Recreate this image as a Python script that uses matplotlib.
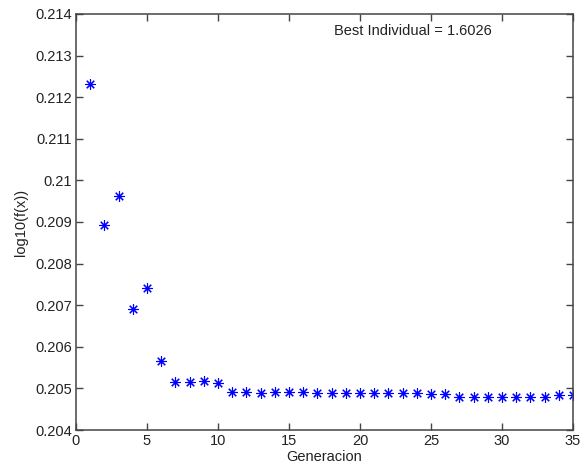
import matplotlib
matplotlib.use("Agg")
import matplotlib.pyplot as plt
import numpy as np

generations = list(range(1, 36))
log_fitness = [0.21231, 0.20893, 0.20963, 0.20690, 0.20742, 0.20567, 0.20515, 0.20515,
               0.20518, 0.20512, 0.20492, 0.20492, 0.20488, 0.20491, 0.20491, 0.20491,
               0.20488, 0.20488, 0.20488, 0.20488, 0.20488, 0.20488, 0.20489, 0.20489,
               0.20486, 0.20486, 0.20480, 0.20480, 0.20480, 0.20480, 0.20480, 0.20480,
               0.20480, 0.20485, 0.20485]
x_ticks = [0, 5, 10, 15, 20, 25, 30, 35]
y_ticks = [0.204, 0.205, 0.206, 0.207, 0.208, 0.209, 0.21, 0.211, 0.212, 0.213, 0.214]
y_tick_labels = ["0.204", "0.205", "0.206", "0.207", "0.208", "0.209", "0.21",
                 "0.211", "0.212", "0.213", "0.214"]
annotation = "Best Individual = 1.6026"

plt.rcParams['font.family'] = ['Liberation Sans', 'DejaVu Sans']
fig = plt.figure(figsize=(5.8, 4.75), dpi=100)
ax = fig.add_axes([0.131, 0.0947, 0.857, 0.876])
ax.plot(generations, log_fitness, linestyle='none', marker=(8, 2, 0), markersize=7.5,
        color='blue', markeredgewidth=0.8)
ax.set_xlim(0, 35)
ax.set_ylim(0.204, 0.214)
ax.set_xticks(x_ticks)
ax.set_xticklabels([str(t) for t in x_ticks])
ax.set_yticks(y_ticks)
ax.set_yticklabels(y_tick_labels)
ax.tick_params(direction='in', top=True, right=True, labelsize=10.5, length=5,
               color='#444444', labelcolor='#222222', width=1.0, pad=3)
for s in ax.spines.values():
    s.set_color('#444444')
    s.set_linewidth(1.1)
ax.set_xlabel("Generacion", fontsize=10.5, color='#222222', labelpad=1)
ax.set_ylabel("log10(f(x))", fontsize=10.5, color='#222222', labelpad=5)
ax.text(23.7, 0.21358, annotation, ha='center', va='center', fontsize=10.5, color='#222222')
fig.savefig("out.png", dpi=100)
